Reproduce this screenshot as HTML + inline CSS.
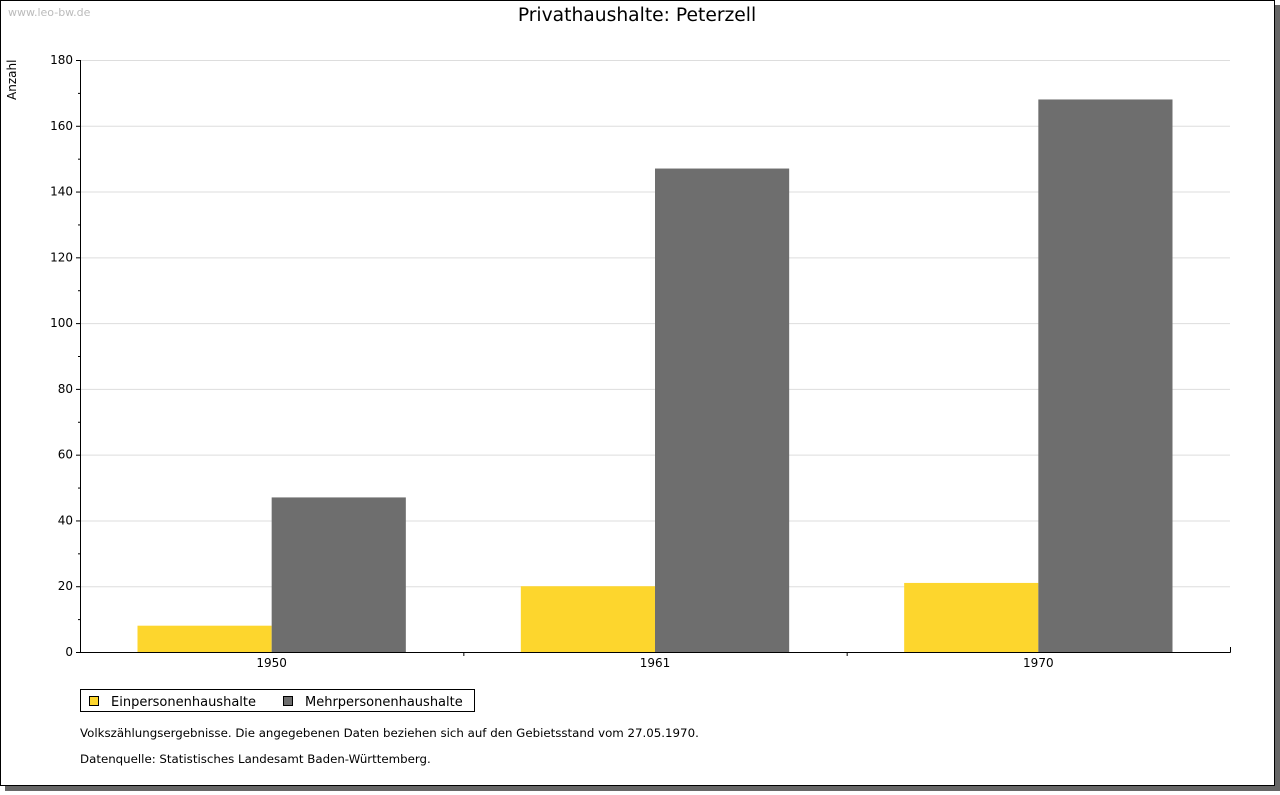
<!DOCTYPE html>
<html><head><meta charset="utf-8"><style>
body{margin:0;background:#fff;width:1280px;height:791px;overflow:hidden;font-family:"DejaVu Sans","Liberation Sans",sans-serif}
</style></head><body>
<svg id="chart" width="1280" height="791" xmlns="http://www.w3.org/2000/svg" font-family="DejaVu Sans, Liberation Sans, sans-serif">
<rect x="5" y="5" width="1275" height="786" fill="#666"/>
<rect x="0.5" y="0.5" width="1274" height="785" fill="#fff" stroke="#000"/>
<text x="8" y="16" font-size="11" fill="#bbb">www.leo-bw.de</text>
<text x="637" y="21" font-size="18.7" text-anchor="middle">Privathaushalte: Peterzell</text>
<text transform="translate(16,100) rotate(-90)" font-size="12">Anzahl</text>
<g id="grid"></g><g id="bars"></g><g id="axes"></g>
<g>
<rect x="80.5" y="689.5" width="394" height="22" fill="#fff" stroke="#000"/>
<rect x="89.5" y="696.5" width="9" height="9" fill="#fdd62d" stroke="#000"/>
<text x="111" y="706" font-size="13">Einpersonenhaushalte</text>
<rect x="283.5" y="696.5" width="9" height="9" fill="#6e6e6e" stroke="#000"/>
<text x="305" y="706" font-size="13">Mehrpersonenhaushalte</text>
</g>
<text x="80" y="737" font-size="11.8">Volkszählungsergebnisse. Die angegebenen Daten beziehen sich auf den Gebietsstand vom 27.05.1970.</text>
<text x="80" y="763" font-size="11.8">Datenquelle: Statistisches Landesamt Baden-Württemberg.</text>
</svg>
<script>
const categories=["1950","1961","1970"];
const einpersonen=[8,20,21];
const mehrpersonen=[47,147,168];
const yTicks=[0,20,40,60,80,100,120,140,160,180];
const NS="http://www.w3.org/2000/svg";
const X0=80,X1=1230,Y0=652,Y1=60,YMAX=180;
const y=v=>Y0-(Y0-Y1)*v/YMAX;
const band=(X1-X0)/categories.length;
function mk(t,a,p){const e=document.createElementNS(NS,t);for(const k in a)e.setAttribute(k,a[k]);document.getElementById(p).appendChild(e);return e;}
yTicks.forEach(v=>{
  if(v>0){const g=mk('line',{x1:X0,x2:X1,y1:y(v)+.5,y2:y(v)+.5,stroke:'#ddd'},'grid');
  
  }
  const t=mk('text',{x:73,y:y(v)+4,'font-size':12,'text-anchor':'end'},'axes');t.textContent=v;
  
  
  mk('line',{x1:X0-4,x2:X0,y1:y(v)+.5,y2:y(v)+.5,stroke:'#000'},'axes');
  if(v<YMAX)mk('line',{x1:X0-2,x2:X0,y1:y(v+10)+.5,y2:y(v+10)+.5,stroke:'#000'},'axes');
});
categories.forEach((c,i)=>{
  const cx=X0+band*(i+.5),bw=band*0.35;
  const a=mk('rect',{x:cx-bw,y:y(einpersonen[i]),width:bw,height:Y0-y(einpersonen[i]),fill:'#fdd62d'},'bars');
  
  
  const b=mk('rect',{x:cx,y:y(mehrpersonen[i]),width:bw,height:Y0-y(mehrpersonen[i]),fill:'#6e6e6e'},'bars');
  
  
  const t=mk('text',{x:cx,y:667,'font-size':12,'text-anchor':'middle'},'axes');t.textContent=c;
  
  
  if(i>0)mk('line',{x1:X0+band*i+.5,x2:X0+band*i+.5,y1:Y0,y2:Y0+4,stroke:'#000'},'axes');
});
mk('line',{x1:X0+.5,x2:X0+.5,y1:Y1,y2:Y0+.5,stroke:'#000'},'axes');
mk('line',{x1:X0,x2:X1+.5,y1:Y0+.5,y2:Y0+.5,stroke:'#000'},'axes');
mk('line',{x1:X1+.5,x2:X1+.5,y1:Y0-5,y2:Y0+.5,stroke:'#000'},'axes');
</script>
</body></html>
